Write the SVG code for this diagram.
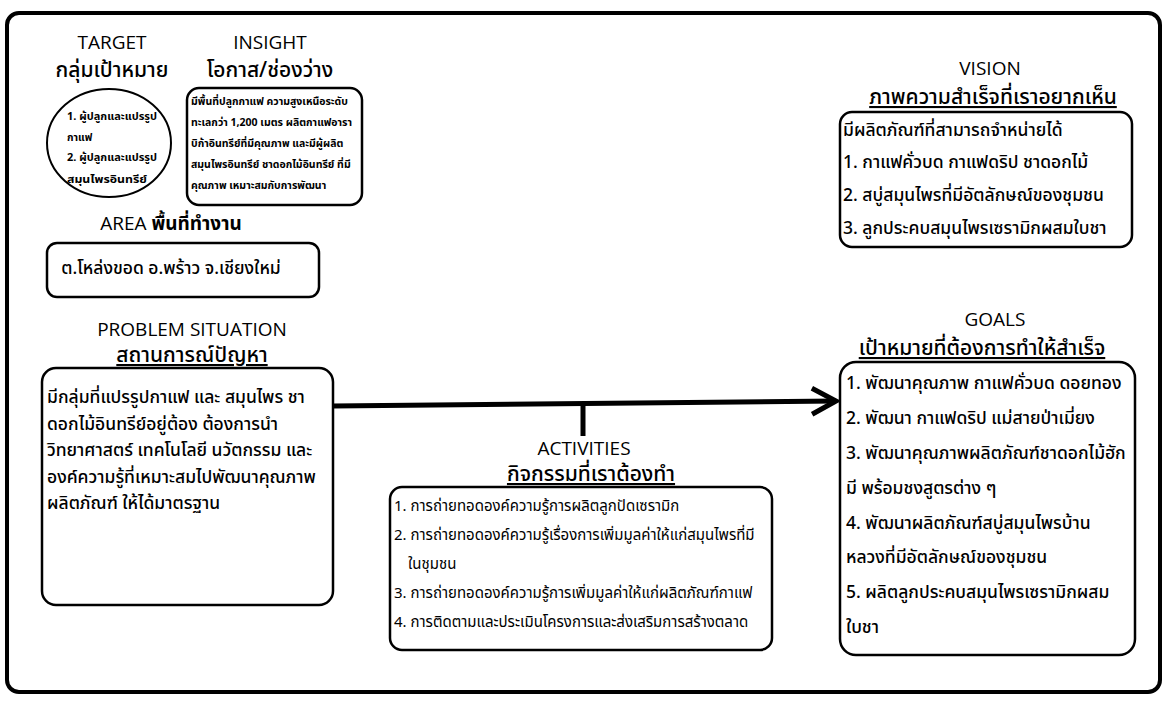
<svg xmlns="http://www.w3.org/2000/svg" width="1167" height="703" viewBox="0 0 1167 703">
<defs>
<style>
.frame{fill:none;stroke:#000;stroke-width:4}
.box{fill:#fff;stroke:#000;stroke-width:2.5}
.h{font-family:"Open Sans","Noto Sans Thai","Noto Sans",sans-serif;font-size:19px;fill:#000;text-anchor:middle}
.th{font-family:"Noto Sans Thai","Open Sans","Noto Sans",sans-serif;font-size:21px;fill:#000;text-anchor:middle;font-weight:500}
.u{text-decoration:underline}
.t{font-family:"Noto Sans Thai","Noto Sans",sans-serif;font-size:17.5px;fill:#000;font-weight:500}
.a{font-family:"Noto Sans Thai","Noto Sans",sans-serif;font-size:15px;fill:#000}
.s{font-family:"Noto Sans Thai","Noto Sans",sans-serif;font-size:10.5px;font-weight:bold;fill:#000}
.conn{stroke:#000;stroke-width:5;fill:none}
</style>
<marker id="arr" markerUnits="userSpaceOnUse" markerWidth="34" markerHeight="34" refX="28" refY="17" orient="auto">
<path d="M4,4 L28,17 L4,30" fill="none" stroke="#000" stroke-width="5"/>
</marker>
</defs>
<rect class="frame" x="7" y="13" width="1153" height="679" rx="12"/>
<g id="connectors">
<line class="conn" x1="333" y1="406" x2="836" y2="401" marker-end="url(#arr)"/>
<line class="conn" x1="583" y1="404" x2="583" y2="436"/>
</g>
<g id="target">
<text class="h" x="112" y="49">TARGET</text>
<text class="th" x="112" y="77">กลุ่มเป้าหมาย</text>
<ellipse cx="109" cy="143" rx="62" ry="54" fill="#fff" stroke="#000" stroke-width="2"/>
<text class="s" x="67" y="120" textLength="90" lengthAdjust="spacingAndGlyphs">1. ผู้ปลูกและแปรรูป</text>
<text class="s" x="67" y="141">กาแฟ</text>
<text class="s" x="67" y="161" textLength="90" lengthAdjust="spacingAndGlyphs">2. ผู้ปลูกและแปรรูป</text>
<text class="s" x="67" y="183" textLength="80" lengthAdjust="spacingAndGlyphs">สมุนไพรอินทรีย์</text>
</g>
<g id="insight">
<text class="h" x="270" y="49">INSIGHT</text>
<text class="th" x="270" y="77">โอกาส/ช่องว่าง</text>
<rect class="box" x="187" y="88" width="175" height="117" rx="12"/>
<text class="s" x="191" y="105" font-size="9.5">มีพื้นที่ปลูกกาแฟ ความสูงเหนือระดับ</text>
<text class="s" x="191" y="126" font-size="9.5">ทะเลกว่า 1,200 เมตร ผลิตกาแฟอารา</text>
<text class="s" x="191" y="147" font-size="9.5">บิก้าอินทรีย์ที่มีคุณภาพ และมีผู้ผลิต</text>
<text class="s" x="191" y="168" font-size="9.5">สมุนไพรอินทรีย์ ชาดอกไม้อินทรีย์  ที่มี</text>
<text class="s" x="191" y="189" font-size="9.5">คุณภาพ เหมาะสมกับการพัฒนา</text>
</g>
<g id="area">
<text class="h" x="171" y="230" font-size="20">AREA <tspan font-weight="bold">พื้นที่ทำงาน</tspan></text>
<rect class="box" x="47" y="243" width="272" height="54" rx="10"/>
<text class="t" x="171" y="274" text-anchor="middle" font-weight="bold" font-size="17.5">ต.โหล่งขอด อ.พร้าว จ.เชียงใหม่</text>
</g>
<g id="vision">
<text class="h" x="990" y="75">VISION</text>
<text class="th u" x="993" y="104">ภาพความสำเร็จที่เราอยากเห็น</text>
<rect class="box" x="840" y="112" width="292" height="135" rx="12"/>
<text class="t" x="843" y="136" font-size="18.5">มีผลิตภัณฑ์ที่สามารถจำหน่ายได้</text>
<text class="t" x="843" y="168" font-size="18.5">1. กาแฟคั่วบด กาแฟดริป ชาดอกไม้</text>
<text class="t" x="843" y="201" font-size="18.5">2. สบู่สมุนไพรที่มีอัตลักษณ์ของชุมชน</text>
<text class="t" x="843" y="234" font-size="18.5">3. ลูกประคบสมุนไพรเซรามิกผสมใบชา</text>
</g>
<g id="problem">
<text class="h" x="192" y="336">PROBLEM SITUATION</text>
<text class="th u" x="192" y="362">สถานการณ์ปัญหา</text>
<rect class="box" x="42" y="368" width="291" height="237" rx="14"/>
<text class="t" x="47" y="403" font-size="16.5">มีกลุ่มที่แปรรูปกาแฟ และ สมุนไพร ชา</text>
<text class="t" x="47" y="430" font-size="16.5">ดอกไม้อินทรีย์อยู่ต้อง ต้องการนำ</text>
<text class="t" x="47" y="456" font-size="16.5">วิทยาศาสตร์ เทคโนโลยี นวัตกรรม และ</text>
<text class="t" x="47" y="483" font-size="16.5">องค์ความรู้ที่เหมาะสมไปพัฒนาคุณภาพ</text>
<text class="t" x="47" y="509" font-size="16.5">ผลิตภัณฑ์ ให้ได้มาตรฐาน</text>
</g>
<g id="activities">
<text class="h" x="584" y="455">ACTIVITIES</text>
<text class="th u" x="591" y="481">กิจกรรมที่เราต้องทำ</text>
<rect class="box" x="390" y="487" width="382" height="163" rx="12"/>
<text class="a" x="394" y="511">1. การถ่ายทอดองค์ความรู้การผลิตลูกปัดเซรามิก</text>
<text class="a" x="394" y="540">2. การถ่ายทอดองค์ความรู้เรื่องการเพิ่มมูลค่าให้แก่สมุนไพรที่มี</text>
<text class="a" x="408" y="569">ในชุมชน</text>
<text class="a" x="394" y="598">3. การถ่ายทอดองค์ความรู้การเพิ่มมูลค่าให้แก่ผลิตภัณฑ์กาแฟ</text>
<text class="a" x="394" y="627">4. การติดตามและประเมินโครงการและส่งเสริมการสร้างตลาด</text>
</g>
<g id="goals">
<text class="h" x="995" y="326">GOALS</text>
<text class="th u" x="982" y="355">เป้าหมายที่ต้องการทำให้สำเร็จ</text>
<rect class="box" x="840" y="362" width="295" height="293" rx="16"/>
<text class="t" x="846" y="389">1. พัฒนาคุณภาพ กาแฟคั่วบด ดอยทอง</text>
<text class="t" x="846" y="424">2. พัฒนา กาแฟดริป แม่สายป่าเมี่ยง</text>
<text class="t" x="846" y="459">3. พัฒนาคุณภาพผลิตภัณฑ์ชาดอกไม้ฮัก</text>
<text class="t" x="846" y="494">มี พร้อมชงสูตรต่าง ๆ</text>
<text class="t" x="846" y="529">4. พัฒนาผลิตภัณฑ์สบู่สมุนไพรบ้าน</text>
<text class="t" x="846" y="563">หลวงที่มีอัตลักษณ์ของชุมชน</text>
<text class="t" x="846" y="598">5. ผลิตลูกประคบสมุนไพรเซรามิกผสม</text>
<text class="t" x="846" y="633">ใบชา</text>
</g>
</svg>
